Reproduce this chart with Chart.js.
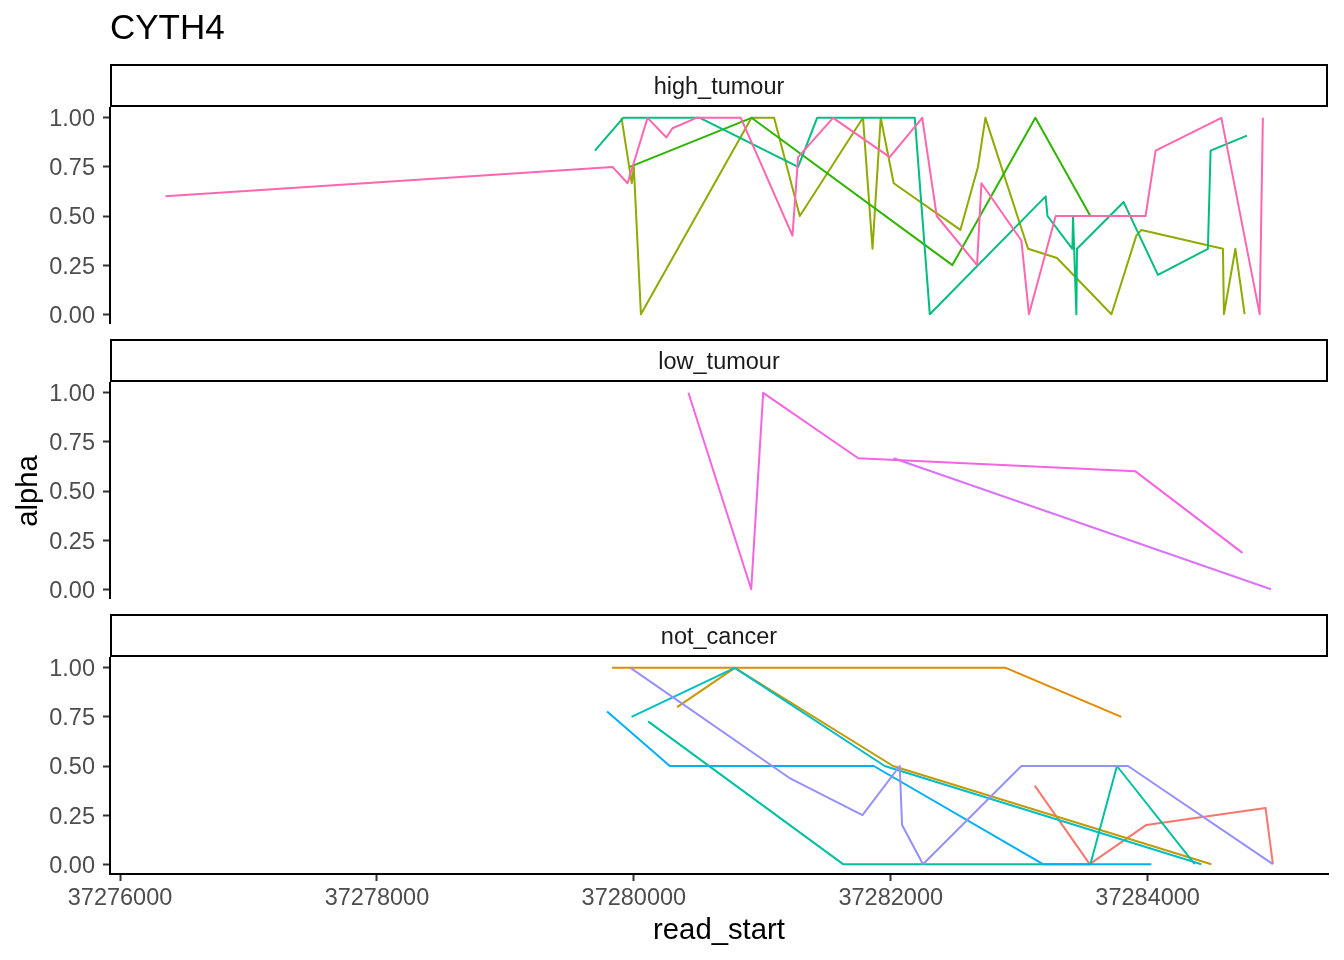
<!DOCTYPE html>
<html><head><meta charset="utf-8">
<script src="https://cdn.jsdelivr.net/npm/chart.js@4.4.1/dist/chart.umd.min.js"></script>
<style>
html,body{margin:0;padding:0;background:#fff;}
body{width:1344px;height:960px;position:relative;overflow:hidden;}
canvas{position:absolute;left:0;}
</style></head><body>
<canvas id="c1" width="1344" height="324" style="top:0px"></canvas>
<canvas id="c2" width="1344" height="269" style="top:330px"></canvas>
<canvas id="c3" width="1344" height="355" style="top:605px"></canvas>
<script>
const chartTitle = 'CYTH4';
const panelNames = ['high_tumour', 'low_tumour', 'not_cancer'];
const xTitle = 'read_start';
const yTitle = 'alpha';
const xTicks = [37276000, 37278000, 37280000, 37282000, 37284000];
const yTicks = [0, 0.25, 0.5, 0.75, 1];
const xLimits = [37275922, 37285404];
const yLimits = [-0.05, 1.05];

// ---- high_tumour ----
const hiOliveX = [37279904, 37279984, 37280000, 37280055, 37280916, 37281092, 37281292, 37281784, 37281858, 37281922, 37282023, 37282542, 37282679, 37282737, 37283069, 37283294, 37283718, 37283912, 37283951, 37284586, 37284594, 37284683, 37284755];
const hiOliveY = [1, 0.667, 0.75, 0, 1, 1, 0.5, 1, 0.333, 1, 0.667, 0.429, 0.75, 1, 0.333, 0.286, 0, 0.4, 0.429, 0.333, 0, 0.333, 0];
const hiGreenX = [37279969, 37280916, 37282480, 37283126, 37283554];
const hiGreenY = [0.75, 1, 0.25, 1, 0.5];
const hiEmeraldX = [37279697, 37279917, 37280514, 37281279, 37281427, 37282187, 37282304, 37283206, 37283220, 37283414, 37283419, 37283445, 37283450, 37283813, 37284080, 37284469, 37284490, 37284773];
const hiEmeraldY = [0.833, 1, 1, 0.75, 1, 1, 0, 0.6, 0.5, 0.333, 0.5, 0, 0.333, 0.571, 0.2, 0.333, 0.833, 0.909];
const hiPinkX = [37276354, 37279834, 37279951, 37280107, 37280254, 37280301, 37280488, 37280833, 37281235, 37281279, 37281551, 37281992, 37282245, 37282358, 37282672, 37282706, 37283017, 37283076, 37283284, 37283984, 37284062, 37284574, 37284872, 37284897];
const hiPinkY = [0.6, 0.75, 0.667, 1, 0.9, 0.947, 1, 1, 0.4, 0.8, 1, 0.8, 1, 0.5, 0.25, 0.667, 0.375, 0, 0.5, 0.5, 0.833, 1, 0, 1];

// ---- low_tumour ----
const loPurpleX = [37282022, 37284960];
const loPurpleY = [0.667, 0];
const loMagentaX = [37280425, 37280914, 37281007, 37281747, 37283905, 37284738];
const loMagentaY = [1, 0, 1, 0.667, 0.6, 0.185];

// ---- not_cancer ----
const ncSalmonX = [37283121, 37283549, 37283990, 37284918, 37284975];
const ncSalmonY = [0.4, 0, 0.2, 0.286, 0];
const ncOrangeX = [37279831, 37282895, 37283795];
const ncOrangeY = [1, 1, 0.75];
const ncGoldX = [37280337, 37280786, 37282018, 37284496];
const ncGoldY = [0.8, 1, 0.5, 0];
const ncTealX = [37280111, 37281629, 37283554, 37283761, 37284366];
const ncTealY = [0.727, 0, 0, 0.5, 0];
const ncCyanX = [37279982, 37280786, 37281953, 37284418];
const ncCyanY = [0.75, 1, 0.5, 0];
const ncBlueX = [37279792, 37280280, 37281868, 37283185, 37284029];
const ncBlueY = [0.778, 0.5, 0.5, 0, 0];
const ncPeriX = [37279974, 37281209, 37281780, 37282070, 37282088, 37282251, 37283017, 37283847, 37284975];
const ncPeriY = [1, 0.44, 0.25, 0.5, 0.2, 0, 0.5, 0.5, 0];

const FAMILY = '"Liberation Sans", Arial, Helvetica, sans-serif';

function mk(xs, ys) { return xs.map((x, i) => ({x: x, y: ys[i]})); }
function series(list) {
  const n = list.length;
  return list.map((s, i) => ({
    data: mk(s[0], s[1]), borderColor: s[2], backgroundColor: s[2],
    borderWidth: 2, pointRadius: 0, fill: false, tension: 0,
    borderJoinStyle: 'round', borderCapStyle: 'butt', order: n - i
  }));
}

const stripPlugin = {
  id: 'strip',
  afterDraw(chart, args, opts) {
    const ctx = chart.ctx;
    const left = chart.chartArea.left, right = chart.chartArea.right;
    ctx.save();
    ctx.fillStyle = '#ffffff';
    ctx.fillRect(left, opts.top, right - left, opts.bottom - opts.top);
    ctx.strokeStyle = '#000000';
    ctx.lineWidth = 2;
    ctx.strokeRect(left + 1, opts.top + 1, right - left - 2, opts.bottom - opts.top - 2);
    ctx.fillStyle = '#1A1A1A';
    ctx.font = '23.5px ' + FAMILY;
    ctx.textAlign = 'center';
    ctx.textBaseline = 'middle';
    ctx.fillText(opts.text, (left + right) / 2, (opts.top + opts.bottom) / 2 + 2);
    ctx.restore();
  }
};

function yScale(showTitle) {
  return {
    type: 'linear', min: yLimits[0], max: yLimits[1],
    afterBuildTicks: s => { s.ticks = yTicks.map(v => ({value: v})); },
    afterFit: s => { s.width = 110; s.paddingTop = 0; s.paddingBottom = 0; },
    ticks: { callback: v => Number(v).toFixed(2), color: '#4D4D4D', font: {size: 23.5, family: FAMILY}, padding: 8, autoSkip: false, labelOffset: 2 },
    grid: { display: true, drawOnChartArea: false, drawTicks: true, tickLength: 7, tickColor: '#333333', tickWidth: 2 },
    border: { display: true, color: '#000000', width: 2 },
    title: { display: showTitle, text: yTitle, color: '#000000', font: {size: 29.3, family: FAMILY}, padding: {top: 11, bottom: 0} }
  };
}
function xScale(show) {
  return {
    type: 'linear', min: xLimits[0], max: xLimits[1], display: show,
    afterBuildTicks: s => { s.ticks = xTicks.map(v => ({value: v})); },
    afterFit: s => { if (show) s.height = 86; s.paddingLeft = 0; s.paddingRight = 0; },
    ticks: { callback: v => String(v), color: '#4D4D4D', font: {size: 23.5, family: FAMILY}, padding: 3, autoSkip: false, maxRotation: 0, minRotation: 0 },
    grid: { display: true, drawOnChartArea: false, drawTicks: true, tickLength: 7, tickColor: '#333333', tickWidth: 2 },
    border: { display: true, color: '#000000', width: 2 },
    title: { display: show, text: xTitle, color: '#000000', font: {size: 29.3, family: FAMILY}, padding: {top: 0, bottom: 12} }
  };
}

function makeChart(id, datasets, opts) {
  return new Chart(document.getElementById(id), {
    type: 'line',
    data: { datasets: datasets },
    options: {
      responsive: false, animation: false, devicePixelRatio: 1,
      layout: { padding: { top: opts.padTop, left: 0, right: 16, bottom: 0 } },
      plugins: {
        legend: { display: false }, tooltip: { enabled: false },
        title: opts.title || { display: false },
        strip: { text: opts.strip, top: opts.stripTop, bottom: opts.stripBottom }
      },
      scales: { x: xScale(opts.showX), y: yScale(opts.showYTitle) }
    },
    plugins: [stripPlugin]
  });
}

makeChart('c1', series([
  [hiOliveX, hiOliveY, '#8FAA00'],
  [hiGreenX, hiGreenY, '#2EB500'],
  [hiEmeraldX, hiEmeraldY, '#00BF7D'],
  [hiPinkX, hiPinkY, '#FF66B0']
]), {
  padTop: 0, strip: panelNames[0], stripTop: 64, stripBottom: 107, showX: false, showYTitle: false,
  title: { display: true, text: chartTitle, align: 'start', fullSize: false, color: '#000000',
           font: { size: 35, family: FAMILY, weight: 'normal' }, padding: { top: 8, bottom: 58 } }
});

makeChart('c2', series([
  [loPurpleX, loPurpleY, '#DB72FB'],
  [loMagentaX, loMagentaY, '#F564E3']
]), { padTop: 53, strip: panelNames[1], stripTop: 9, stripBottom: 52, showX: false, showYTitle: true });

makeChart('c3', series([
  [ncSalmonX, ncSalmonY, '#F8766D'],
  [ncOrangeX, ncOrangeY, '#E38900'],
  [ncGoldX, ncGoldY, '#C49A00'],
  [ncTealX, ncTealY, '#00C19F'],
  [ncCyanX, ncCyanY, '#00BFC4'],
  [ncBlueX, ncBlueY, '#00B0F6'],
  [ncPeriX, ncPeriY, '#9590FF']
]), { padTop: 53, strip: panelNames[2], stripTop: 9, stripBottom: 52, showX: true, showYTitle: false });
</script>
</body></html>
